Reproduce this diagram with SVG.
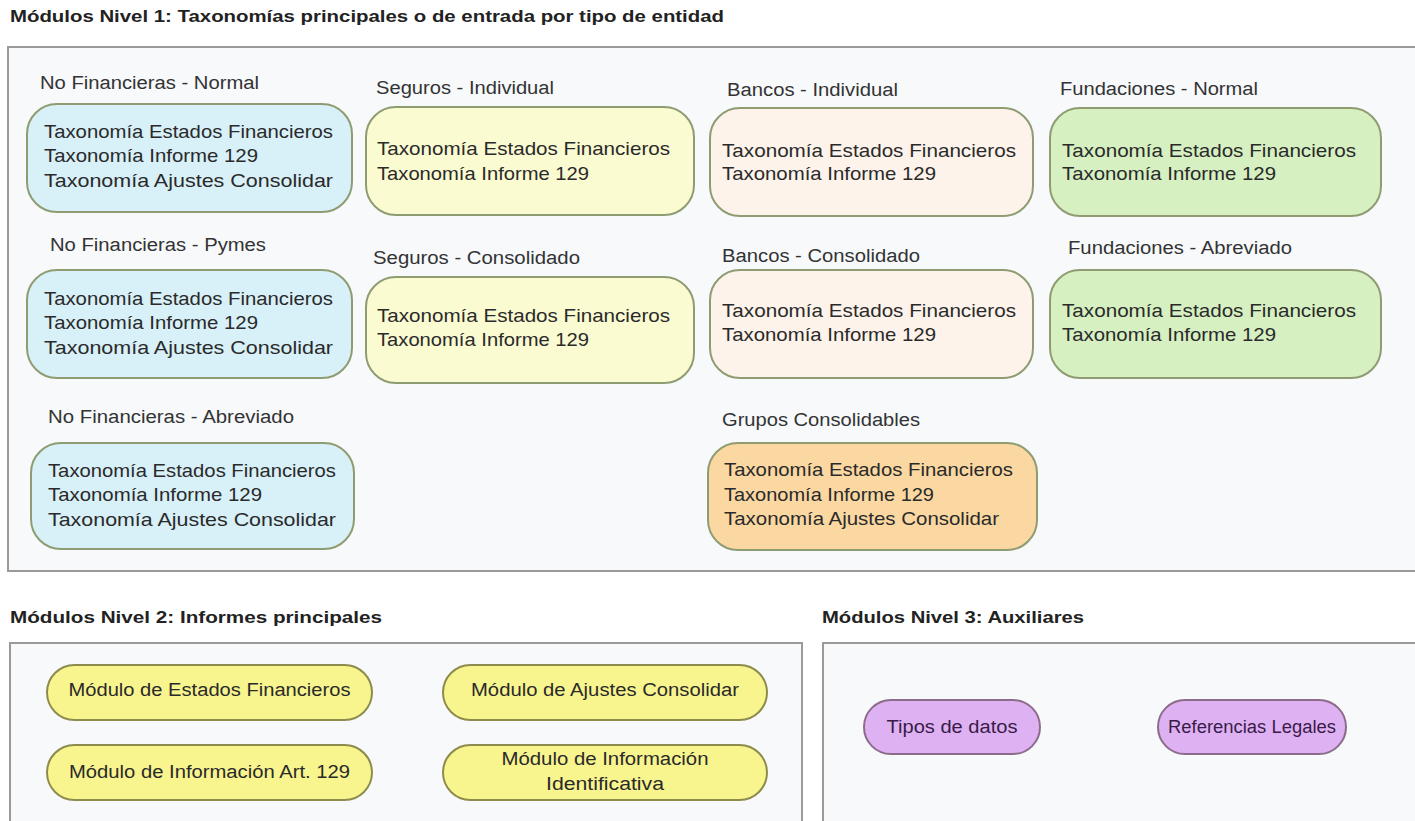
<svg xmlns="http://www.w3.org/2000/svg" width="1415" height="821" viewBox="0 0 1415 821">
<style>
.title{font-family:"Liberation Sans",Arial,sans-serif;font-weight:bold;font-size:16px;fill:#222}
.lbl{font-family:"Liberation Sans",Arial,sans-serif;font-size:18px;fill:#333}
.tx{font-family:"Liberation Sans",Arial,sans-serif;font-size:19px;fill:#2a2a2a}
.pt{font-family:"Liberation Sans",Arial,sans-serif;font-size:18px;fill:#2a2a2a;text-anchor:middle}
.pp{font-family:"Liberation Sans",Arial,sans-serif;font-size:18px;fill:#3a1a4a;text-anchor:middle}
.cont{fill:#f7f9fb;stroke:#9a9a9a;stroke-width:2}
.box{stroke:#8f9c72;stroke-width:2}
.blue{fill:#d8f0f8}
.yel{fill:#fbfbd2}
.peach{fill:#fdf3ea}
.green{fill:#d6f0c2}
.orange{fill:#fbd8a2}
.pill{fill:#f9f58e;stroke:#8e8c4c;stroke-width:2}
.purple{fill:#deb2f2;stroke:#8c6c8a;stroke-width:2}
</style>
<rect width="1415" height="821" fill="#ffffff"/>

<text class="title" x="10" y="22" textLength="714" lengthAdjust="spacingAndGlyphs">Módulos Nivel 1: Taxonomías principales o de entrada por tipo de entidad</text>
<rect class="cont" x="8" y="47" width="1420" height="524"/>

<g id="nf-normal">
<text class="lbl" x="40" y="89" textLength="219" lengthAdjust="spacingAndGlyphs">No Financieras - Normal</text>
<rect class="box blue" x="27" y="104" width="325" height="108" rx="30"/>
<text class="tx" x="44" y="138" textLength="289" lengthAdjust="spacingAndGlyphs">Taxonomía Estados Financieros</text>
<text class="tx" x="44" y="162" textLength="214" lengthAdjust="spacingAndGlyphs">Taxonomía Informe 129</text>
<text class="tx" x="44" y="187" textLength="289" lengthAdjust="spacingAndGlyphs">Taxonomía Ajustes Consolidar</text>
</g>

<g id="seg-ind">
<text class="lbl" x="376" y="94" textLength="178" lengthAdjust="spacingAndGlyphs">Seguros - Individual</text>
<rect class="box yel" x="366" y="107" width="328" height="108" rx="30"/>
<text class="tx" x="377" y="155" textLength="293" lengthAdjust="spacingAndGlyphs">Taxonomía Estados  Financieros</text>
<text class="tx" x="377" y="180" textLength="212" lengthAdjust="spacingAndGlyphs">Taxonomía Informe 129</text>
</g>

<g id="ban-ind">
<text class="lbl" x="727" y="96" textLength="171" lengthAdjust="spacingAndGlyphs">Bancos - Individual</text>
<rect class="box peach" x="710" y="108" width="323" height="108" rx="30"/>
<text class="tx" x="722" y="157" textLength="294" lengthAdjust="spacingAndGlyphs">Taxonomía Estados  Financieros</text>
<text class="tx" x="722" y="180" textLength="214" lengthAdjust="spacingAndGlyphs">Taxonomía Informe 129</text>
</g>

<g id="fun-normal">
<text class="lbl" x="1060" y="95" textLength="198" lengthAdjust="spacingAndGlyphs">Fundaciones - Normal</text>
<rect class="box green" x="1050" y="108" width="331" height="108" rx="30"/>
<text class="tx" x="1062" y="157" textLength="294" lengthAdjust="spacingAndGlyphs">Taxonomía Estados  Financieros</text>
<text class="tx" x="1062" y="180" textLength="214" lengthAdjust="spacingAndGlyphs">Taxonomía Informe 129</text>
</g>

<g id="nf-pymes">
<text class="lbl" x="50" y="251" textLength="216" lengthAdjust="spacingAndGlyphs">No Financieras - Pymes</text>
<rect class="box blue" x="27" y="270" width="325" height="108" rx="30"/>
<text class="tx" x="44" y="305" textLength="289" lengthAdjust="spacingAndGlyphs">Taxonomía Estados Financieros</text>
<text class="tx" x="44" y="329" textLength="214" lengthAdjust="spacingAndGlyphs">Taxonomía Informe 129</text>
<text class="tx" x="44" y="354" textLength="289" lengthAdjust="spacingAndGlyphs">Taxonomía Ajustes Consolidar</text>
</g>

<g id="seg-con">
<text class="lbl" x="373" y="264" textLength="207" lengthAdjust="spacingAndGlyphs">Seguros - Consolidado</text>
<rect class="box yel" x="366" y="277" width="328" height="106" rx="30"/>
<text class="tx" x="377" y="322" textLength="293" lengthAdjust="spacingAndGlyphs">Taxonomía Estados  Financieros</text>
<text class="tx" x="377" y="346" textLength="212" lengthAdjust="spacingAndGlyphs">Taxonomía Informe 129</text>
</g>

<g id="ban-con">
<text class="lbl" x="722" y="262" textLength="198" lengthAdjust="spacingAndGlyphs">Bancos - Consolidado</text>
<rect class="box peach" x="710" y="270" width="323" height="108" rx="30"/>
<text class="tx" x="722" y="317" textLength="294" lengthAdjust="spacingAndGlyphs">Taxonomía Estados  Financieros</text>
<text class="tx" x="722" y="341" textLength="214" lengthAdjust="spacingAndGlyphs">Taxonomía Informe 129</text>
</g>

<g id="fun-abr">
<text class="lbl" x="1068" y="254" textLength="224" lengthAdjust="spacingAndGlyphs">Fundaciones - Abreviado</text>
<rect class="box green" x="1050" y="270" width="331" height="108" rx="30"/>
<text class="tx" x="1062" y="317" textLength="294" lengthAdjust="spacingAndGlyphs">Taxonomía Estados  Financieros</text>
<text class="tx" x="1062" y="341" textLength="214" lengthAdjust="spacingAndGlyphs">Taxonomía Informe 129</text>
</g>

<g id="nf-abr">
<text class="lbl" x="48" y="423" textLength="246" lengthAdjust="spacingAndGlyphs">No Financieras - Abreviado</text>
<rect class="box blue" x="31" y="443" width="323" height="106" rx="30"/>
<text class="tx" x="48" y="477" textLength="288" lengthAdjust="spacingAndGlyphs">Taxonomía Estados Financieros</text>
<text class="tx" x="48" y="501" textLength="214" lengthAdjust="spacingAndGlyphs">Taxonomía Informe 129</text>
<text class="tx" x="48" y="526" textLength="288" lengthAdjust="spacingAndGlyphs">Taxonomía Ajustes Consolidar</text>
</g>

<g id="grupos">
<text class="lbl" x="722" y="426" textLength="198" lengthAdjust="spacingAndGlyphs">Grupos Consolidables</text>
<rect class="box orange" x="708" y="443" width="329" height="107" rx="30"/>
<text class="tx" x="724" y="476" textLength="289" lengthAdjust="spacingAndGlyphs">Taxonomía Estados Financieros</text>
<text class="tx" x="724" y="501" textLength="210" lengthAdjust="spacingAndGlyphs">Taxonomía Informe 129</text>
<text class="tx" x="724" y="525" textLength="275" lengthAdjust="spacingAndGlyphs">Taxonomía Ajustes Consolidar</text>
</g>

<text class="title" x="10" y="623" textLength="372" lengthAdjust="spacingAndGlyphs">Módulos Nivel 2: Informes principales</text>
<rect class="cont" x="10" y="643" width="792" height="190"/>

<g id="mod-ef">
<rect class="pill" x="47" y="665" width="325" height="55" rx="27.5"/>
<text class="pt" x="209.5" y="696" textLength="282" lengthAdjust="spacingAndGlyphs">Módulo de Estados Financieros</text>
</g>
<g id="mod-ac">
<rect class="pill" x="443" y="665" width="324" height="55" rx="27.5"/>
<text class="pt" x="605" y="696" textLength="268" lengthAdjust="spacingAndGlyphs">Módulo de Ajustes Consolidar</text>
</g>
<g id="mod-129">
<rect class="pill" x="47" y="745" width="325" height="55" rx="27.5"/>
<text class="pt" x="209.5" y="778" textLength="281" lengthAdjust="spacingAndGlyphs">Módulo de Información Art. 129</text>
</g>
<g id="mod-id">
<rect class="pill" x="443" y="745" width="324" height="55" rx="27.5"/>
<text class="pt" x="605" y="765" textLength="207" lengthAdjust="spacingAndGlyphs">Módulo de Información</text>
<text class="pt" x="605" y="790" textLength="118" lengthAdjust="spacingAndGlyphs">Identificativa</text>
</g>

<text class="title" x="822" y="623" textLength="262" lengthAdjust="spacingAndGlyphs">Módulos Nivel 3: Auxiliares</text>
<rect class="cont" x="823" y="643" width="600" height="190"/>

<g id="tipos">
<rect class="purple" x="864" y="700" width="176" height="54" rx="27"/>
<text class="pp" x="952" y="733" textLength="131" lengthAdjust="spacingAndGlyphs">Tipos de datos</text>
</g>
<g id="refs">
<rect class="purple" x="1158" y="700" width="188" height="54" rx="27"/>
<text class="pp" x="1252" y="733" textLength="168" lengthAdjust="spacingAndGlyphs">Referencias Legales</text>
</g>

<g id="connectors"></g>
</svg>
